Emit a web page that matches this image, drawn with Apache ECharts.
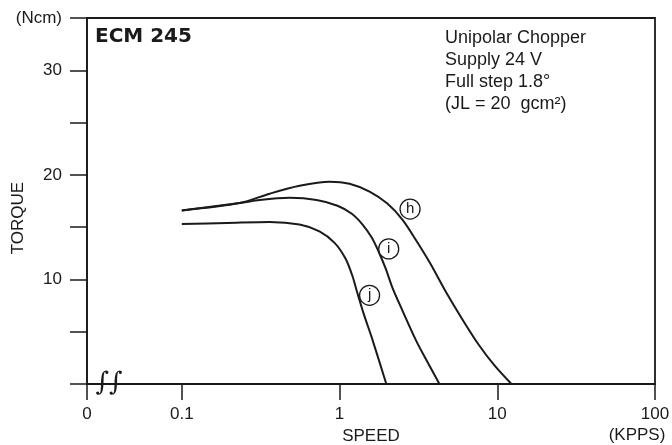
<!DOCTYPE html>
<html>
<head>
<meta charset="utf-8">
<script src="https://cdn.jsdelivr.net/npm/echarts@6/dist/echarts.min.js"></script>
<style>html,body{margin:0;padding:0;background:#fff}#c{width:672px;height:445px}</style>
</head>
<body>
<div id="c"></div>
<script>
// Speed (KPPS) / torque (Ncm)
var hSpeed  = [0.1, 0.233, 0.361, 0.558, 0.865, 1.157, 1.55, 2.01, 2.51, 3.07, 3.77, 4.75, 6.0, 7.59, 9.57, 12.3];
var hTorque = [16.6, 17.3, 18.2, 18.95, 19.35, 19.15, 18.4, 17.25, 15.7, 13.7, 11.5, 8.75, 6.2, 3.8, 1.8, 0];
var iSpeed  = [0.1, 0.233, 0.312, 0.483, 0.715, 0.971, 1.19, 1.40, 1.60, 1.77, 1.96, 2.16, 2.45, 3.07, 3.61, 4.30];
var iTorque = [16.6, 17.3, 17.6, 17.8, 17.6, 17.05, 16.3, 15.25, 14.0, 12.65, 11.05, 9.25, 7.35, 4.1, 2.1, 0];
var jSpeed  = [0.1, 0.193, 0.361, 0.558, 0.746, 0.930, 1.091, 1.209, 1.30, 1.42, 1.62, 1.98];
var jTorque = [15.3, 15.4, 15.5, 15.25, 14.6, 13.5, 12.0, 10.3, 8.65, 6.75, 4.2, 0];
var curveNames = ['h', 'i', 'j'];
var curveLabelAt = [[2.80, 16.73], [2.05, 12.92], [1.55, 8.48]];
var yTickLabels = {10: '10', 20: '20', 30: '30', 35: '(Ncm)'};
var infoLines = ['Unipolar Chopper', 'Supply 24 V', 'Full step 1.8°', '(JL = 20  gcm²)'];

function pairs(xs, ys) { return xs.map(function (x, k) { return [x, ys[k]]; }); }
var seriesData = [pairs(hSpeed, hTorque), pairs(iSpeed, iTorque), pairs(jSpeed, jTorque)];

var ink = '#1a1a1a';
var font = 'Liberation Sans, Arial, Helvetica, sans-serif';

var chart = echarts.init(document.getElementById('c'), null, {renderer: 'canvas'});
chart.setOption({
  animation: false,
  backgroundColor: '#fff',
  grid: {left: 87, right: 17, top: 18, bottom: 61, show: true, borderColor: ink, borderWidth: 1.8, outerBoundsMode: 'none', containLabel: false},
  xAxis: {
    type: 'log', logBase: 10, min: 0.02506, max: 100,
    name: 'SPEED', nameLocation: 'middle', nameGap: 51,
    nameTextStyle: {fontSize: 17, color: ink, fontFamily: font, verticalAlign: 'middle'},
    axisLine: {lineStyle: {color: ink, width: 1.5}},
    axisTick: {show: true, length: 16, lineStyle: {color: ink, width: 1.5}},
    minorTick: {show: false}, splitLine: {show: false}, minorSplitLine: {show: false},
    axisLabel: {
      margin: 22, fontSize: 17, color: ink, fontFamily: font,
      showMinLabel: true, showMaxLabel: true, hideOverlap: false,
      formatter: function (v) { return v < 0.05 ? '0' : String(+v.toPrecision(3)); }
    }
  },
  yAxis: {
    type: 'value', min: 0, max: 35, interval: 5,
    axisLine: {show: true, lineStyle: {color: ink, width: 1.5}},
    axisTick: {show: true, length: 17, lineStyle: {color: ink, width: 1.5}},
    splitLine: {show: false},
    axisLabel: {
      margin: 25, fontSize: 17, color: ink, fontFamily: font, showMaxLabel: true,
      formatter: function (v) { return yTickLabels[v] || ''; }
    }
  },
  series: seriesData.map(function (d, k) {
    return {
      type: 'line', data: d, smooth: 0.3, showSymbol: false, symbol: 'none',
      lineStyle: {color: ink, width: 2}, silent: true, z: 3,
      markPoint: {
        symbol: 'circle', symbolSize: 20, silent: true,
        itemStyle: {color: '#fff', borderColor: ink, borderWidth: 1.3},
        label: {show: true, position: 'inside', formatter: curveNames[k], color: ink, fontSize: 15, fontFamily: font},
        data: [{coord: curveLabelAt[k]}]
      }
    };
  }),
  graphic: [
    {type: 'text', left: 95, top: 27, style: {text: 'ECM 245', font: 'bold 20px "DejaVu Sans", sans-serif', fill: ink}},
    {type: 'text', left: 445, top: 27, style: {text: infoLines.join('\n'), font: '18px ' + font, lineHeight: 22, fill: ink}},
    {type: 'text', x: 18.5, y: 218, rotation: Math.PI / 2, style: {text: 'TORQUE', font: '17px ' + font, fill: ink, align: 'center', verticalAlign: 'middle'}},
    {type: 'text', x: 637, y: 435, style: {text: '(KPPS)', font: '17px ' + font, fill: ink, align: 'center', verticalAlign: 'middle'}},
    {type: 'text', x: 109, y: 383, z: 10, style: {text: '∫∫', font: 'italic 26px "DejaVu Serif", serif', fill: ink, align: 'center', verticalAlign: 'middle'}}
  ]
});
</script>
</body>
</html>
